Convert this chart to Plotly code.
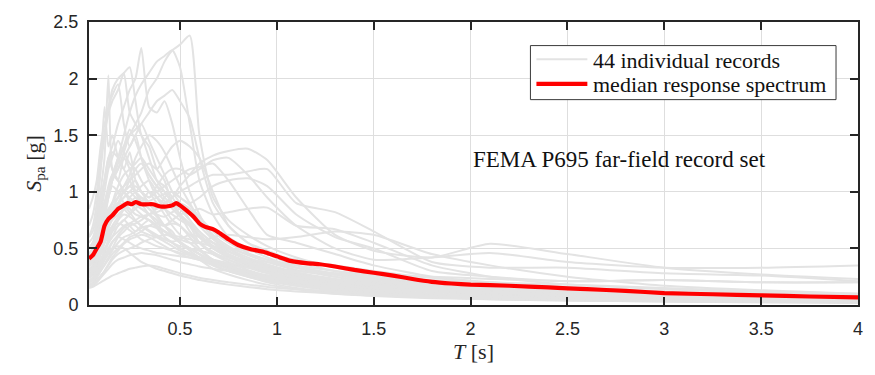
import plotly.graph_objects as go

# Period grid shared by the individual record spectra [s]
periods = [0.03, 0.05, 0.07, 0.09, 0.11, 0.13, 0.15, 0.18, 0.21, 0.24, 0.27, 0.30,
           0.34, 0.38, 0.42, 0.46, 0.50, 0.55, 0.60, 0.67, 0.75, 0.85, 0.95, 1.1,
           1.3, 1.5, 1.8, 2.1, 2.5, 3.0, 3.5, 4.0]

# Pseudo-spectral accelerations of the individual records [g]
r01 = [0.55,0.60,0.70,0.80,0.85,1.00,1.10,1.20,1.35,1.50,1.60,1.70,1.90,2.00,2.15,2.25,2.30,2.38,1.50,0.95,0.75,0.62,0.52,0.42,0.33,0.26,0.19,0.15,0.11,0.08,0.065,0.055]
r02 = [0.50,0.55,0.65,0.80,0.90,1.00,1.15,1.30,1.50,1.70,1.85,1.95,2.05,2.15,2.20,2.25,2.10,1.60,1.10,0.80,0.60,0.50,0.42,0.33,0.25,0.20,0.15,0.12,0.09,0.07,0.055,0.045]
r03 = [0.60,0.65,0.80,0.95,1.10,1.30,1.40,1.60,1.75,1.90,2.00,2.27,1.75,1.70,1.80,1.60,1.30,1.00,0.80,0.60,0.50,0.40,0.35,0.28,0.22,0.17,0.13,0.10,0.08,0.06,0.05,0.04]
r04 = [0.45,0.50,0.70,1.00,1.30,2.03,1.20,1.10,1.30,1.20,1.00,0.90,0.80,0.75,0.60,0.55,0.50,0.45,0.40,0.32,0.27,0.22,0.18,0.14,0.10,0.08,0.06,0.05,0.04,0.03,0.025,0.02]
r05 = [0.70,0.80,1.00,1.30,1.50,1.70,1.90,2.00,2.05,2.10,1.80,1.50,1.40,1.20,1.10,0.90,0.85,0.75,0.65,0.55,0.45,0.38,0.32,0.25,0.19,0.15,0.12,0.09,0.07,0.05,0.04,0.035]
r06 = [0.85,0.95,1.10,1.40,1.60,1.70,1.80,1.90,2.05,1.70,1.60,1.50,1.30,1.10,1.00,0.90,0.80,0.70,0.55,0.45,0.40,0.33,0.28,0.22,0.17,0.14,0.10,0.08,0.06,0.045,0.035,0.03]
r07 = [0.60,0.70,0.90,1.20,1.50,1.75,1.85,1.95,1.60,1.40,1.50,1.30,1.10,0.95,0.85,0.75,0.70,0.60,0.50,0.40,0.33,0.27,0.22,0.17,0.13,0.10,0.08,0.06,0.045,0.035,0.03,0.025]
r08 = [0.50,0.55,0.60,0.75,0.90,1.00,1.10,1.20,1.30,1.40,1.50,1.60,1.70,1.80,1.85,1.90,1.80,1.65,1.30,0.90,0.70,0.55,0.45,0.35,0.27,0.21,0.16,0.12,0.09,0.07,0.055,0.045]
r09 = [0.40,0.50,0.80,1.20,1.75,1.40,1.50,1.30,1.20,1.35,1.10,1.00,0.90,0.80,0.70,0.65,0.55,0.50,0.45,0.35,0.30,0.25,0.20,0.15,0.11,0.09,0.07,0.05,0.04,0.03,0.025,0.02]
r10 = [0.35,0.40,0.50,0.65,0.80,0.95,1.10,1.30,1.40,1.50,1.55,1.60,1.45,1.30,1.15,1.00,0.90,0.75,0.60,0.50,0.42,0.35,0.30,0.23,0.18,0.14,0.10,0.08,0.06,0.045,0.035,0.03]
r11 = [0.30,0.32,0.38,0.45,0.50,0.55,0.60,0.70,0.75,0.80,0.85,0.90,1.00,0.95,0.90,0.95,1.05,1.15,1.25,1.32,1.36,1.38,1.28,0.95,0.62,0.48,0.42,0.54,0.45,0.33,0.27,0.23]
r12 = [0.40,0.42,0.50,0.60,0.70,0.80,0.85,0.95,1.00,1.05,1.10,1.00,0.95,1.05,1.15,1.20,1.20,1.15,1.20,1.28,1.30,1.15,0.95,0.70,0.50,0.40,0.42,0.46,0.38,0.33,0.33,0.35]
r13 = [0.25,0.27,0.30,0.35,0.40,0.45,0.50,0.60,0.65,0.70,0.72,0.75,0.80,0.85,0.90,0.95,1.00,1.05,1.10,1.15,1.15,1.18,1.20,0.90,0.82,0.65,0.38,0.33,0.33,0.28,0.26,0.21]
r14 = [0.30,0.33,0.40,0.50,0.60,0.70,0.80,0.90,0.85,0.80,0.90,0.95,0.90,0.85,0.95,1.00,0.95,0.90,0.95,1.05,1.10,1.12,1.05,0.80,0.60,0.50,0.30,0.25,0.21,0.22,0.20,0.20]
r15 = [0.20,0.22,0.25,0.30,0.35,0.40,0.45,0.50,0.55,0.60,0.62,0.65,0.70,0.72,0.70,0.75,0.80,0.82,0.85,0.80,0.82,0.85,0.86,0.70,0.67,0.55,0.35,0.25,0.18,0.14,0.11,0.09]
r16 = [0.45,0.50,0.55,0.65,0.75,0.85,0.90,1.00,1.05,1.10,1.15,1.20,1.25,1.20,1.30,1.40,1.45,1.40,1.30,1.00,0.70,0.55,0.48,0.38,0.30,0.24,0.18,0.14,0.10,0.08,0.06,0.05]
r17 = [0.35,0.38,0.45,0.55,0.65,0.75,0.80,0.90,0.95,1.00,1.05,1.00,0.95,1.00,1.05,1.10,1.15,1.20,1.22,1.25,1.10,0.85,0.62,0.55,0.45,0.35,0.25,0.20,0.15,0.11,0.09,0.07]
r18 = [0.28,0.30,0.35,0.45,0.55,0.60,0.65,0.70,0.75,0.70,0.65,0.70,0.75,0.70,0.65,0.60,0.58,0.55,0.55,0.60,0.62,0.60,0.58,0.60,0.65,0.62,0.45,0.35,0.25,0.17,0.13,0.10]
r19 = [0.40,0.45,0.60,0.80,1.00,1.20,1.30,1.45,1.35,1.25,1.20,1.10,1.00,0.90,0.80,0.70,0.62,0.55,0.48,0.40,0.34,0.28,0.24,0.19,0.15,0.12,0.09,0.07,0.055,0.04,0.032,0.026]
r20 = [0.30,0.35,0.45,0.60,0.75,0.95,1.10,1.25,1.40,1.55,1.45,1.30,1.15,1.05,1.00,0.90,0.80,0.65,0.55,0.45,0.38,0.31,0.26,0.21,0.16,0.13,0.10,0.08,0.06,0.045,0.036,0.03]
r21 = [0.25,0.28,0.35,0.45,0.60,0.75,0.90,1.05,1.15,1.20,1.25,1.30,1.20,1.10,1.05,0.95,0.85,0.75,0.65,0.55,0.47,0.40,0.34,0.27,0.21,0.17,0.13,0.10,0.08,0.06,0.05,0.04]
r22 = [0.45,0.50,0.65,0.85,1.10,1.30,1.20,1.10,1.00,0.95,0.90,0.85,0.80,0.75,0.70,0.62,0.55,0.48,0.42,0.36,0.30,0.25,0.21,0.17,0.13,0.11,0.08,0.06,0.05,0.038,0.03,0.025]
r23 = [0.32,0.35,0.42,0.50,0.60,0.70,0.80,0.90,1.00,1.05,1.00,0.95,0.90,0.88,0.85,0.80,0.75,0.70,0.62,0.52,0.44,0.37,0.31,0.25,0.20,0.16,0.12,0.10,0.08,0.06,0.05,0.04]
r24 = [0.22,0.24,0.28,0.35,0.45,0.55,0.65,0.75,0.85,0.95,1.00,1.05,1.10,1.00,0.92,0.85,0.78,0.70,0.60,0.50,0.43,0.36,0.31,0.26,0.21,0.17,0.13,0.11,0.085,0.065,0.05,0.04]
r25 = [0.38,0.42,0.55,0.70,0.85,0.95,1.05,1.00,0.90,0.85,0.80,0.78,0.75,0.70,0.65,0.60,0.55,0.50,0.45,0.38,0.32,0.27,0.23,0.18,0.14,0.11,0.085,0.065,0.05,0.038,0.03,0.025]
r26 = [0.28,0.30,0.36,0.45,0.55,0.65,0.70,0.78,0.85,0.90,0.95,0.92,0.85,0.80,0.78,0.82,0.85,0.80,0.70,0.58,0.48,0.40,0.34,0.28,0.22,0.18,0.14,0.11,0.09,0.07,0.055,0.045]
r27 = [0.20,0.22,0.26,0.32,0.40,0.48,0.55,0.62,0.68,0.72,0.75,0.78,0.80,0.82,0.85,0.88,0.90,0.85,0.75,0.62,0.52,0.44,0.38,0.31,0.25,0.20,0.16,0.13,0.10,0.08,0.065,0.055]
r28 = [0.35,0.40,0.50,0.62,0.72,0.80,0.85,0.90,0.88,0.82,0.75,0.70,0.65,0.60,0.56,0.52,0.48,0.44,0.40,0.35,0.30,0.26,0.22,0.18,0.14,0.11,0.085,0.07,0.055,0.042,0.034,0.028]
r29 = [0.42,0.48,0.60,0.75,0.90,1.05,1.15,1.10,1.00,0.92,0.85,0.80,0.75,0.68,0.60,0.55,0.50,0.46,0.42,0.37,0.32,0.27,0.23,0.19,0.15,0.12,0.095,0.075,0.06,0.045,0.036,0.03]
r30 = [0.30,0.33,0.40,0.50,0.60,0.68,0.75,0.80,0.85,0.90,0.88,0.85,0.80,0.72,0.70,0.72,0.70,0.62,0.55,0.47,0.40,0.34,0.29,0.24,0.19,0.16,0.12,0.10,0.08,0.06,0.048,0.04]
r31 = [0.26,0.28,0.33,0.40,0.48,0.55,0.60,0.65,0.70,0.72,0.70,0.65,0.62,0.60,0.58,0.55,0.52,0.50,0.48,0.45,0.42,0.40,0.38,0.33,0.28,0.23,0.18,0.15,0.12,0.09,0.075,0.06]
r32 = [0.18,0.20,0.24,0.30,0.36,0.42,0.48,0.55,0.60,0.62,0.65,0.68,0.70,0.68,0.65,0.62,0.60,0.58,0.55,0.52,0.50,0.48,0.45,0.40,0.35,0.30,0.24,0.20,0.16,0.12,0.10,0.08]
r33 = [0.24,0.26,0.30,0.36,0.42,0.50,0.56,0.60,0.58,0.55,0.52,0.50,0.48,0.46,0.45,0.44,0.43,0.42,0.40,0.38,0.36,0.34,0.32,0.30,0.27,0.24,0.20,0.17,0.14,0.11,0.09,0.075]
r34 = [0.16,0.17,0.20,0.24,0.28,0.32,0.36,0.40,0.42,0.44,0.45,0.46,0.45,0.44,0.42,0.40,0.38,0.36,0.34,0.32,0.30,0.28,0.26,0.23,0.20,0.17,0.14,0.12,0.10,0.08,0.065,0.055]
r35 = [0.20,0.22,0.27,0.33,0.40,0.46,0.50,0.52,0.50,0.46,0.42,0.38,0.35,0.32,0.30,0.28,0.26,0.24,0.22,0.20,0.18,0.16,0.14,0.12,0.10,0.085,0.07,0.055,0.045,0.035,0.028,0.022]
r36 = [0.15,0.16,0.18,0.20,0.22,0.24,0.26,0.28,0.30,0.32,0.33,0.34,0.35,0.34,0.32,0.30,0.28,0.26,0.24,0.22,0.20,0.18,0.16,0.14,0.12,0.10,0.08,0.065,0.05,0.04,0.032,0.026]
r37 = [0.18,0.19,0.22,0.26,0.30,0.35,0.40,0.45,0.48,0.50,0.52,0.55,0.58,0.60,0.62,0.60,0.55,0.50,0.45,0.40,0.35,0.30,0.26,0.22,0.18,0.15,0.12,0.10,0.08,0.06,0.05,0.04]
r38 = [0.30,0.32,0.38,0.46,0.55,0.62,0.68,0.72,0.70,0.66,0.62,0.58,0.55,0.52,0.50,0.48,0.46,0.44,0.42,0.40,0.37,0.34,0.31,0.27,0.23,0.19,0.15,0.12,0.095,0.075,0.06,0.05]
r39 = [0.22,0.24,0.30,0.38,0.48,0.58,0.66,0.75,0.80,0.78,0.74,0.70,0.66,0.62,0.58,0.56,0.58,0.62,0.60,0.55,0.50,0.45,0.40,0.35,0.30,0.26,0.22,0.20,0.18,0.15,0.12,0.10]
r40 = [0.50,0.55,0.70,0.90,1.10,1.25,1.35,1.30,1.20,1.10,1.00,0.92,0.85,0.78,0.70,0.62,0.56,0.50,0.45,0.39,0.34,0.29,0.25,0.20,0.16,0.13,0.10,0.08,0.065,0.05,0.04,0.033]
r41 = [0.27,0.30,0.38,0.48,0.58,0.68,0.78,0.88,0.95,1.00,0.95,0.90,0.92,0.95,0.98,1.00,0.95,0.88,0.78,0.65,0.55,0.46,0.40,0.33,0.27,0.22,0.17,0.14,0.11,0.085,0.07,0.058]
r42 = [0.34,0.38,0.48,0.60,0.72,0.82,0.90,0.95,1.00,1.10,1.20,1.25,1.15,1.05,0.95,0.88,0.80,0.72,0.62,0.52,0.45,0.38,0.33,0.27,0.21,0.17,0.13,0.10,0.08,0.06,0.048,0.04]
r43 = [0.17,0.18,0.21,0.25,0.30,0.36,0.42,0.48,0.54,0.58,0.60,0.62,0.60,0.56,0.52,0.48,0.45,0.42,0.40,0.37,0.35,0.33,0.32,0.30,0.28,0.26,0.25,0.23,0.21,0.22,0.20,0.20]
r44 = [0.38,0.40,0.46,0.55,0.65,0.75,0.85,0.95,1.05,1.15,1.30,1.40,1.50,1.45,1.35,1.20,1.05,0.90,0.75,0.60,0.50,0.42,0.36,0.29,0.23,0.18,0.14,0.11,0.085,0.065,0.05,0.042]

records = [r01, r02, r03, r04, r05, r06, r07, r08, r09, r10, r11, r12, r13, r14, r15,
           r16, r17, r18, r19, r20, r21, r22, r23, r24, r25, r26, r27, r28, r29, r30,
           r31, r32, r33, r34, r35, r36, r37, r38, r39, r40, r41, r42, r43, r44]

# Median response spectrum of the set
median_periods = [0.03, 0.05, 0.07, 0.09, 0.11, 0.13, 0.15, 0.18, 0.20, 0.23, 0.25, 0.27,
                  0.30, 0.33, 0.36, 0.40, 0.43, 0.46, 0.48, 0.50, 0.53, 0.57, 0.60, 0.63,
                  0.67, 0.70, 0.75, 0.80, 0.87, 0.93, 1.0, 1.07, 1.15, 1.22, 1.3, 1.4,
                  1.5, 1.6, 1.7, 1.8, 1.9, 2.0, 2.2, 2.4, 2.6, 2.8, 3.0, 3.25, 3.5, 3.75, 4.0]
median_sa = [0.41, 0.44, 0.50, 0.56, 0.70, 0.76, 0.79, 0.85, 0.87, 0.90, 0.89, 0.91,
             0.89, 0.89, 0.89, 0.87, 0.87, 0.88, 0.90, 0.88, 0.84, 0.78, 0.72, 0.69,
             0.67, 0.64, 0.58, 0.53, 0.49, 0.47, 0.43, 0.39, 0.37, 0.36, 0.34, 0.31,
             0.285, 0.26, 0.23, 0.205, 0.19, 0.18, 0.17, 0.155, 0.14, 0.125, 0.105, 0.095,
             0.085, 0.075, 0.068]

x_ticks = [0.5, 1, 1.5, 2, 2.5, 3, 3.5, 4]
y_ticks = [0, 0.5, 1, 1.5, 2, 2.5]

GREY = "#e3e3e3"
RED = "#ff0000"
AXIS = "#262626"
W, H = 875, 375
L, R, T, B = 89, 16, 17, 70

fig = go.Figure()
for rec in records:
    fig.add_trace(go.Scatter(x=periods, y=rec, mode="lines",
                             line=dict(color=GREY, width=2, shape="spline", smoothing=0.6),
                             hoverinfo="skip", showlegend=False))
fig.add_trace(go.Scatter(x=median_periods, y=median_sa, mode="lines",
                         line=dict(color=RED, width=4.2, shape="spline", smoothing=0.5),
                         showlegend=False))


def px_x(px):
    return (px - L) / (W - L - R)


def px_y(py):
    return (H - B - py) / (H - T - B)


serif = "Liberation Serif, Times New Roman, serif"

# Legend drawn as a box with sample lines and labels
shapes = [
    dict(type="rect", xref="paper", yref="paper", x0=px_x(531), x1=px_x(837),
         y0=px_y(96), y1=px_y(41), line=dict(color="#3a3a3a", width=1),
         fillcolor="white", layer="above"),
    dict(type="line", xref="paper", yref="paper", x0=px_x(537), x1=px_x(588),
         y0=px_y(55), y1=px_y(55), line=dict(color=GREY, width=2), layer="above"),
    dict(type="line", xref="paper", yref="paper", x0=px_x(537), x1=px_x(588),
         y0=px_y(80), y1=px_y(80), line=dict(color=RED, width=4.2), layer="above"),
]
annotations = [
    dict(text="44 individual records", xref="paper", yref="paper", x=px_x(592),
         y=px_y(56), xanchor="left", yanchor="middle", showarrow=False,
         font=dict(family=serif, size=22, color="#111")),
    dict(text="median response spectrum", xref="paper", yref="paper", x=px_x(592),
         y=px_y(81), xanchor="left", yanchor="middle", showarrow=False,
         font=dict(family=serif, size=22, color="#111")),
    dict(text="FEMA P695 far-field record set", xref="paper", yref="paper", x=px_x(471),
         y=px_y(157), xanchor="left", yanchor="middle", showarrow=False,
         font=dict(family=serif, size=23, color="#111")),
]

axis_common = dict(showline=True, linecolor=AXIS, linewidth=2, mirror="ticks",
                   ticks="inside", ticklen=8, tickwidth=2, tickcolor=AXIS,
                   showgrid=True, gridcolor="#dedede", gridwidth=1, zeroline=False,
                   tickfont=dict(family="Liberation Sans, Arial, sans-serif", size=18,
                                 color=AXIS))

fig.update_layout(
    width=W, height=H,
    margin=dict(l=L, r=R, t=T, b=B),
    paper_bgcolor="white", plot_bgcolor="white",
    shapes=shapes, annotations=annotations,
    xaxis=dict(range=[0.03, 4], tickvals=x_ticks, ticktext=[f"{v:g}" for v in x_ticks],
               ticklabelstandoff=6,
               title=dict(text="<i>T</i> [s]", font=dict(family=serif, size=22, color=AXIS),
                          standoff=2),
               **axis_common),
    yaxis=dict(range=[0, 2.5], tickvals=y_ticks, ticktext=[f"{v:g}" for v in y_ticks],
               ticklabelstandoff=5,
               title=dict(text="<i>S</i><sub>pa</sub> [g]",
                          font=dict(family=serif, size=22, color=AXIS), standoff=6),
               **axis_common),
)

fig.write_html("out.html")
